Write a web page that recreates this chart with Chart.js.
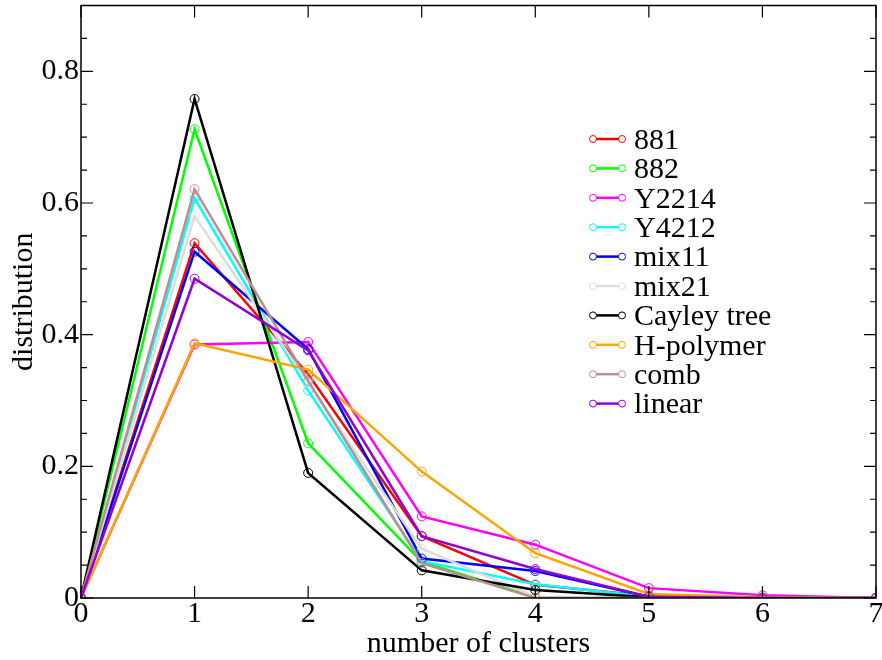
<!DOCTYPE html>
<html>
<head>
<meta charset="utf-8">
<script src="https://cdn.jsdelivr.net/npm/chart.js@4"></script>
<style>
  html, body { margin: 0; padding: 0; background: #fff; }
  #wrap { width: 882px; height: 660px; }
</style>
</head>
<body>
<div id="wrap"><canvas id="chart" width="882" height="660"></canvas></div>
<script>
// cluster count on x, fraction on y
let clusters = [0, 1, 2, 3, 4, 5, 6, 7];

let names = ['881', '882', 'Y2214', 'Y4212', 'mix11', 'mix21', 'Cayley tree', 'H-polymer', 'comb', 'linear'];
let colors = ['#ff0000', '#00ff00', '#ff00ff', '#00ffff', '#0000ff', '#dcdcdc', '#000000', '#ffa500', '#bc8f8f', '#9400d3'];

let s881      = [0, 0.539, 0.340, 0.094, 0.020, 0.003, 0, 0];
let s882      = [0, 0.712, 0.235, 0.055, 0.001, 0.000, 0, 0];
let sY2214    = [0, 0.385, 0.389, 0.124, 0.081, 0.015, 0.004, 0];
let sY4212    = [0, 0.607, 0.315, 0.056, 0.021, 0.002, 0, 0];
let sMix11    = [0, 0.526, 0.378, 0.060, 0.041, 0.002, 0, 0];
let sMix21    = [0, 0.580, 0.327, 0.075, 0.002, 0.000, 0, 0];
let sCayley   = [0, 0.758, 0.190, 0.042, 0.012, 0.001, 0, 0];
let sHpolymer = [0, 0.387, 0.347, 0.192, 0.068, 0.006, 0.001, 0];
let sComb     = [0, 0.621, 0.330, 0.053, 0.000, 0.000, 0, 0];
let sLinear   = [0, 0.485, 0.376, 0.094, 0.044, 0.002, 0, 0];

let series = [s881, s882, sY2214, sY4212, sMix11, sMix21, sCayley, sHpolymer, sComb, sLinear];

let yLabels = ['0', '0.2', '0.4', '0.6', '0.8'];

const FONT = '"Liberation Serif", "DejaVu Serif", serif';

let datasets = series.map(function(values, i){
    return {
        label: names[i],
        data: values.map(function(v, k){ return {x: clusters[k], y: v}; }),
        borderColor: colors[i],
        borderWidth: 2.5,
        pointRadius: 4.5,
        pointBorderWidth: 1,
        pointBackgroundColor: 'rgba(0,0,0,0)',
        pointBorderColor: colors[i],
        tension: 0,
        order: series.length - 1 - i   // later series drawn on top
    };
});

/* frame, inward ticks, axis titles and the legend box */
const decorations = {
    id: 'decorations',
    afterDraw(chart) {
        let ctx = chart.ctx;
        let a = chart.chartArea;
        let xs = chart.scales.x, ys = chart.scales.y;
        ctx.save();
        ctx.strokeStyle = '#000';
        ctx.lineWidth = 1.5;
        ctx.strokeRect(a.left, a.top, a.right - a.left, a.bottom - a.top);

        ctx.lineWidth = 1.2;
        ctx.beginPath();
        for (let i = 0; i <= 18; i++) {
            let v = i * 0.05;
            let py = ys.getPixelForValue(v);
            let len = (i % 4 === 0) ? 12 : 6;
            ctx.moveTo(a.left, py); ctx.lineTo(a.left + len, py);
            ctx.moveTo(a.right, py); ctx.lineTo(a.right - len, py);
        }
        clusters.forEach(function(c){
            let px = xs.getPixelForValue(c);
            ctx.moveTo(px, a.bottom); ctx.lineTo(px, a.bottom - 12);
            ctx.moveTo(px, a.top); ctx.lineTo(px, a.top + 12);
        });
        ctx.stroke();

        // axis titles
        ctx.fillStyle = '#000';
        ctx.font = '30px ' + FONT;
        ctx.textAlign = 'center';
        ctx.textBaseline = 'alphabetic';
        ctx.fillText('number of clusters', (a.left + a.right) / 2, 652);
        ctx.save();
        ctx.translate(32, (a.top + a.bottom) / 2);
        ctx.rotate(-Math.PI / 2);
        ctx.fillText('distribution', 0, 0);
        ctx.restore();

        // legend
        ctx.textAlign = 'left';
        ctx.textBaseline = 'middle';
        names.forEach(function(name, i){
            let y = 139 + i * 29.4;
            ctx.strokeStyle = colors[i];
            ctx.lineWidth = 2.5;
            ctx.beginPath();
            ctx.moveTo(593, y); ctx.lineTo(622, y);
            ctx.stroke();
            ctx.lineWidth = 1;
            [593, 622].forEach(function(px){
                ctx.beginPath();
                ctx.arc(px, y, 3.5, 0, Math.PI * 2);
                ctx.fillStyle = '#fff';
                ctx.fill();
                ctx.stroke();
            });
            ctx.fillStyle = '#000';
            ctx.fillText(name, 634, y + 2);
        });
        ctx.restore();
    }
};

new Chart(document.getElementById('chart'), {
    type: 'line',
    data: { datasets: datasets },
    options: {
        responsive: false,
        animation: false,
        layout: { padding: { top: 4, right: 6, left: 0, bottom: 0 } },
        plugins: {
            legend: { display: false },
            tooltip: { enabled: false }
        },
        scales: {
            x: {
                type: 'linear',
                min: 0, max: 7,
                grid: { display: false, drawTicks: false },
                border: { display: false },
                ticks: {
                    stepSize: 1,
                    padding: -2,
                    color: '#000',
                    font: { family: FONT, size: 30 }
                },
                afterFit: function(scale){
                    scale.height = 62;
                    scale.paddingLeft = 0;
                    scale.paddingRight = 0;
                }
            },
            y: {
                min: 0, max: 0.9,
                grid: { display: false, drawTicks: false },
                border: { display: false },
                ticks: {
                    stepSize: 0.2,
                    padding: 2,
                    color: '#000',
                    font: { family: FONT, size: 30 },
                    callback: function(v){
                        let idx = Math.round(v / 0.2);
                        return Math.abs(v - idx * 0.2) < 1e-6 ? yLabels[idx] : '';
                    }
                },
                afterFit: function(scale){
                    scale.width = 81;
                    scale.paddingTop = 0;
                    scale.paddingBottom = 0;
                }
            }
        }
    },
    plugins: [decorations]
});
</script>
</body>
</html>
